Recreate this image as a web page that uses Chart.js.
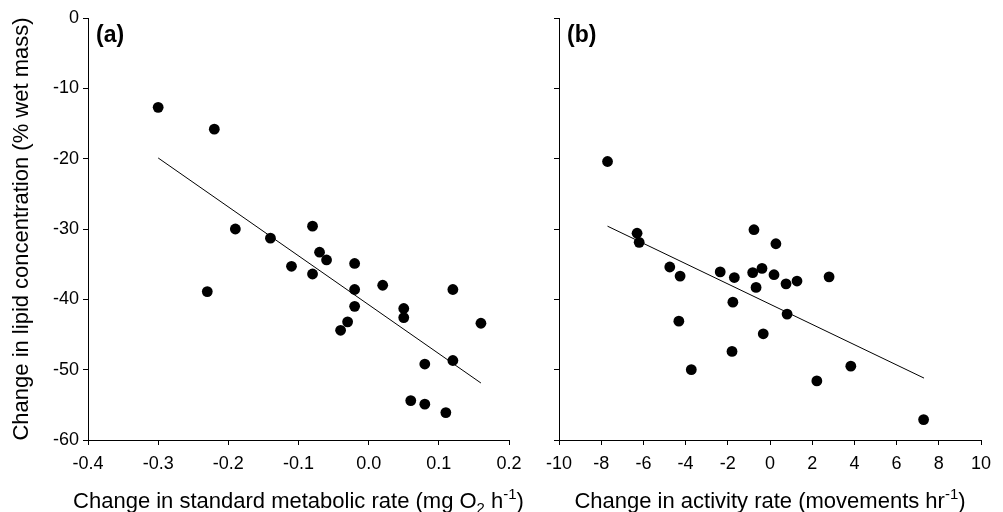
<!DOCTYPE html>
<html>
<head>
<meta charset="utf-8">
<script src="https://cdn.jsdelivr.net/npm/chart.js@4"></script>
<style>
  body { margin: 0; background: #fff; }
  .panel { position: absolute; top: 0; }
</style>
</head>
<body>
<div class="panel" style="left:0px"><canvas id="chartA" width="530" height="512"></canvas></div>
<div class="panel" style="left:530px"><canvas id="chartB" width="473" height="512"></canvas></div>
<script>
// panel (a): change in standard metabolic rate vs change in lipid
const smrChange = [-0.30, -0.22, -0.19, -0.14, -0.08, -0.07, -0.06, -0.11, -0.08, -0.23, -0.02, -0.02, -0.02, -0.03, -0.04, 0.02, 0.05, 0.05, 0.12, 0.16, 0.12, 0.08, 0.06, 0.08, 0.11];
const lipidA = [-12.7, -15.8, -30.0, -31.3, -29.6, -33.3, -34.4, -35.3, -36.4, -38.9, -34.9, -38.6, -41.0, -43.2, -44.4, -38.0, -41.3, -42.6, -38.6, -43.4, -48.7, -49.2, -54.4, -54.9, -56.1];
const fitAx = [-0.30, 0.16];
const fitAy = [-19.9, -51.9];

// panel (b): change in activity rate vs change in lipid
const activityChange = [-7.7, -6.3, -6.2, -4.75, -4.26, -4.32, -3.73, -2.36, -1.69, -1.76, -1.80, -0.76, -0.82, -0.38, -0.66, -0.32, 0.28, 0.19, 0.76, 1.28, 0.81, 2.80, 3.83, 2.22, 7.28];
const lipidB = [-20.4, -30.6, -31.9, -35.4, -36.7, -43.1, -50.0, -36.1, -36.9, -40.4, -47.4, -30.1, -36.2, -35.6, -38.3, -44.9, -32.1, -36.5, -37.8, -37.4, -42.1, -36.8, -49.5, -51.6, -57.1];
const fitBx = [-7.7, 7.3];
const fitBy = [-29.6, -51.2];

// axis titles, split so the sub/superscripts can be set small
const titleA = [["Change in standard metabolic rate (mg O", ""], ["2", "sub"], [" h", ""], ["-1", "sup"], [")", ""]];
const titleB = [["Change in activity rate (movements hr", ""], ["-1", "sup"], [")", ""]];

const FONT = "'Liberation Sans', Arial, Helvetica, sans-serif";

function toPoints(xs, ys) {
  return xs.map((x, i) => ({ x: x, y: ys[i] }));
}

// "(a)" / "(b)" letter plus the x axis title with sub/superscripts
const panelText = {
  id: "panelText",
  afterDraw(chart, args, opts) {
    const ctx = chart.ctx;
    const area = chart.chartArea;
    ctx.save();
    ctx.fillStyle = "#000";
    ctx.textBaseline = "middle";
    ctx.font = "bold 23px " + FONT;
    ctx.fillText(opts.label, area.left + 8, area.top + 18);

    ctx.textBaseline = "alphabetic";
    const big = opts.size + "px " + FONT;
    const small = Math.round(opts.size * 0.66) + "px " + FONT;
    let total = 0;
    opts.title.forEach((p) => {
      ctx.font = p[1] ? small : big;
      total += ctx.measureText(p[0]).width;
    });
    let x = (area.left + area.right) / 2 - total / 2;
    const base = 508;
    opts.title.forEach((p) => {
      ctx.font = p[1] ? small : big;
      let y = base;
      if (p[1] === "sub") y = base + 5;
      if (p[1] === "sup") y = base - 9;
      ctx.fillText(p[0], x, y);
      x += ctx.measureText(p[0]).width;
    });
    ctx.restore();
  },
};

function makeChart(id, cfg) {
  const ctx = document.getElementById(id).getContext("2d");
  return new Chart(ctx, {
    type: "scatter",
    data: {
      datasets: [
        {
          type: "line",
          data: toPoints(cfg.fitX, cfg.fitY),
          borderColor: "#000",
          borderWidth: 1,
          pointRadius: 0,
          fill: false,
        },
        {
          data: toPoints(cfg.x, cfg.y),
          backgroundColor: "#000",
          borderWidth: 0,
          pointRadius: 5.4,
        },
      ],
    },
    options: {
      responsive: false,
      animation: false,
      layout: { padding: { top: 18, right: cfg.padRight, left: 0, bottom: 0 } },
      plugins: {
        legend: { display: false },
        tooltip: { enabled: false },
        panelText: { label: cfg.label, title: cfg.xTitle, size: cfg.titleSize },
      },
      scales: {
        x: {
          type: "linear",
          min: cfg.xMin,
          max: cfg.xMax,
          ticks: {
            stepSize: cfg.xStep,
            color: "#000",
            padding: 8,
            font: { family: FONT, size: 18 },
            callback: cfg.xFmt,
          },
          grid: { drawOnChartArea: false, drawTicks: true, tickLength: 5, color: "#000" },
          border: { display: true, color: "#000", width: 1 },
          afterFit(scale) {
            scale.height = 72;
          },
        },
        y: {
          type: "linear",
          min: -60,
          max: 0,
          ticks: {
            stepSize: 10,
            display: cfg.yLabels,
            color: "#000",
            padding: 4,
            font: { family: FONT, size: 18 },
          },
          grid: { drawOnChartArea: false, drawTicks: true, tickLength: 5, color: "#000" },
          border: { display: true, color: "#000", width: 1 },
          title: {
            display: cfg.yLabels,
            text: "Change in lipid concentration (% wet mass)",
            color: "#000",
            padding: { top: 10, bottom: 0 },
            font: { family: FONT, size: 22, lineHeight: 1.05 },
          },
          afterFit(scale) {
            scale.width = cfg.yWidth;
          },
        },
      },
    },
    plugins: [panelText],
  });
}

makeChart("chartA", {
  x: smrChange,
  y: lipidA,
  fitX: fitAx,
  fitY: fitAy,
  label: "(a)",
  xMin: -0.4,
  xMax: 0.2,
  xStep: 0.1,
  xFmt: (v) => Number(v).toFixed(1),
  xTitle: titleA,
  titleSize: 22,
  yLabels: true,
  yWidth: 88,
  padRight: 21,
});

makeChart("chartB", {
  x: activityChange,
  y: lipidB,
  fitX: fitBx,
  fitY: fitBy,
  label: "(b)",
  xMin: -10,
  xMax: 10,
  xStep: 2,
  xFmt: (v) => String(Math.round(v)),
  xTitle: titleB,
  titleSize: 22,
  yLabels: false,
  yWidth: 29,
  padRight: 22,
});
</script>
</body>
</html>
